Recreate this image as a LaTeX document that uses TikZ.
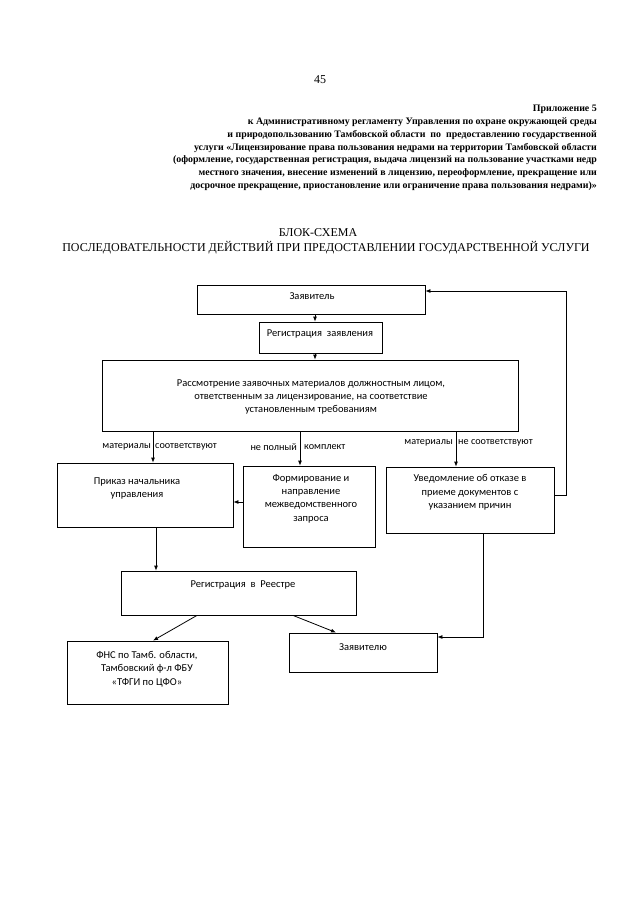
\documentclass[tikz,border=0pt]{standalone}
\usepackage{fontspec}
\setmainfont{Liberation Serif}
\newfontfamily\boxfont{Carlito}
\usetikzlibrary{arrows.meta}
\begin{document}
\begin{tikzpicture}[x=1pt,y=-1pt,
  box/.style={draw, line width=0.8pt, inner sep=0pt},
  btext/.style={font=\boxfont\fontsize{10.5}{13.3}\selectfont, align=center, inner sep=0pt},
  lbl/.style={font=\boxfont\fontsize{10.2}{11}\selectfont, inner sep=0pt},
  arr/.style={line width=0.8pt, -{Latex[length=5pt,width=4pt]}},
  ln/.style={line width=0.8pt}]
\path[fill=white] (0,0) rectangle (640,905);
\useasboundingbox (0,0) rectangle (640,905);

\node[font=\fontsize{12}{14}\selectfont, inner sep=0pt] (pg) at (320,80) {45};
\node[font=\bfseries\fontsize{9.9}{12.8}\selectfont, align=right, anchor=north east, inner sep=0pt] (hdr) at (597,105) {Приложение 5\\
к Административному регламенту Управления по охране окружающей среды\\
и природопользованию Тамбовской области \ по \ предоставлению государственной\\
услуги «Лицензирование права пользования недрами на территории Тамбовской области\\
(оформление, государственная регистрация, выдача лицензий на пользование участками недр\\
местного значения, внесение изменений в лицензию, переоформление, прекращение или\\
досрочное прекращение, приостановление или ограничение права пользования недрами)»};

\node[font=\fontsize{12}{14}\selectfont, inner sep=0pt] (t1) at (318,233) {БЛОК-СХЕМА};
\node[font=\fontsize{12}{14}\selectfont, inner sep=0pt] (t2) at (326,248) {ПОСЛЕДОВАТЕЛЬНОСТИ ДЕЙСТВИЙ ПРИ ПРЕДОСТАВЛЕНИИ ГОСУДАРСТВЕННОЙ УСЛУГИ};

% boxes
\node[box, minimum width=228, minimum height=29] (zay) at (311,299.5) {};
\node[btext] at (312,296) {Заявитель};
\node[box, minimum width=123, minimum height=31] (reg) at (320.5,337.5) {};
\node[btext] at (320,334) {Регистрация \ заявления};
\node[box, minimum width=416, minimum height=71] (ras) at (310,395.5) {};
\node[btext] at (311,397) {Рассмотрение заявочных материалов должностным лицом,\\ответственным за лицензирование, на соответствие\\установленным требованиям};
\node[box, minimum width=176, minimum height=64] (prk) at (145,495) {};
\node[btext] at (137,488.5) {Приказ начальника\\управления};
\node[box, minimum width=132, minimum height=81] (frm) at (309,506.5) {};
\node[btext] at (311,498.5) {Формирование и\\направление\\межведомственного\\запроса};
\node[box, minimum width=168, minimum height=66] (uvd) at (470,500) {};
\node[btext] at (470,492.5) {Уведомление об отказе в\\приеме документов с\\указанием причин};
\node[box, minimum width=235, minimum height=44] (rst) at (238.5,593) {};
\node[btext] at (243,585) {Регистрация \ в \ Реестре};
\node[box, minimum width=148, minimum height=39] (zvl) at (363,652.5) {};
\node[btext] at (363,647) {Заявителю};
\node[box, minimum width=161, minimum height=63] (fns) at (147.5,672.5) {};
\node[btext] at (147,669) {ФНС по Тамб. области,\\Тамбовский ф-л ФБУ\\«ТФГИ по ЦФО»};

% labels
\node[lbl, anchor=east] (l1a) at (151,447) {материалы};
\node[lbl, anchor=west] (l1b) at (155,447) {соответствуют};
\node[lbl, anchor=east] (l2a) at (297,447) {не полный};
\node[lbl, anchor=west] (l2b) at (304,447) {комплект};
\node[lbl, anchor=east] (l3a) at (453,443) {материалы};
\node[lbl, anchor=west] (l3b) at (458,443) {не соответствуют};

% coordinates
\coordinate (x315) at (315,0);
\coordinate (x153) at (153,0);
\coordinate (x300) at (300,0);
\coordinate (x456) at (456,0);
\coordinate (x156) at (156,0);
\coordinate (x483) at (483,0);
\coordinate (x197) at (197,0);
\coordinate (x293) at (293,0);
\coordinate (fbA) at (566,495);
\coordinate (fbB) at (566,291);
\coordinate (y502) at (0,502);
\coordinate (dn) at (483,637);

% connectors
\draw[arr] (zay.south -| x315) -- (reg.north -| x315);
\draw[arr] (reg.south -| x315) -- (ras.north -| x315);
\draw[arr] (ras.south -| x153) -- (prk.north -| x153);
\draw[arr] (ras.south -| x300) -- (frm.north -| x300);
\draw[arr] (ras.south -| x456) -- (uvd.north -| x456);
\draw[arr] (uvd.east |- fbA) -- (fbA) -- (fbB) -- (zay.east |- fbB);
\draw[arr] (frm.west |- y502) -- (prk.east |- y502);
\draw[arr] (prk.south -| x156) -- (rst.north -| x156);
\draw[arr] (uvd.south -| x483) -- (dn) -- (zvl.east |- dn);
\draw[arr] (rst.south -| x197) -- (fns.north -| x153);
\draw[arr] (rst.south -| x293) -- (336,632.5);
\end{tikzpicture}
\end{document}
